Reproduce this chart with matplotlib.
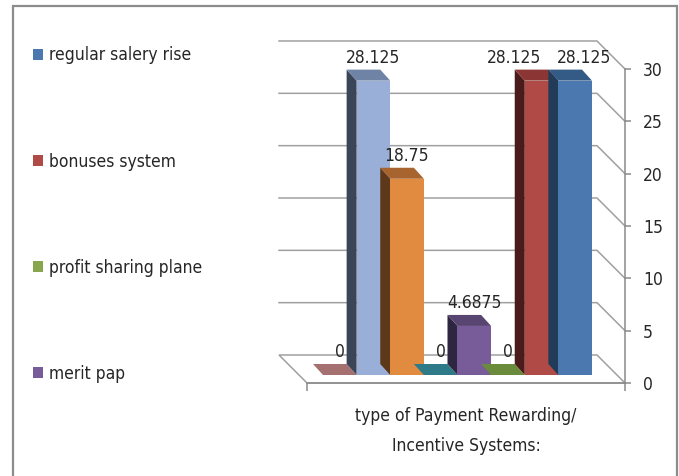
import matplotlib
matplotlib.use("Agg")
import matplotlib.pyplot as plt
from matplotlib.patches import Polygon, Rectangle, Patch

plt.rcParams["font.family"] = ["DejaVu Sans"]
plt.rcParams["font.stretch"] = "condensed"

# Excel series 1..8 (series 1 is the rightmost bar); only 4 names fit in the legend
legend_names = ["regular salery rise", "bonuses system", "profit sharing plane", "merit pap"]
bar_values = [28.125, 28.125, 0, 4.6875, 0, 18.75, 28.125, 0]
bar_labels = ["28.125", "28.125", "0", "4.6875", "0", "18.75", "28.125", "0"]

y_ticks = [0, 5, 10, 15, 20, 25, 30]
x_title = "type of Payment Rewarding/\nIncentive Systems:"

# colours: front, top, side face of each series
front_cols = ["#4A78AF", "#AF4A47", "#87A64E", "#775C99", "#3FA0B8", "#E08B40", "#9AAFD8", "#D09898"]
top_cols = ["#345B86", "#8B3634", "#6A8B3C", "#584572", "#2E7A88", "#A7642E", "#6F83A6", "#A57070"]
side_cols = ["#223B58", "#4A1B1A", "#3C4E22", "#2E2540", "#1B4550", "#5E381A", "#3A4557", "#5A3C3C"]

# small nudges (px) for the labels Excel moved to avoid overlap
label_nudge = [9, -27, 0, 0, 0, 0, 0, 0]

FS = 12.5
W, H = 679, 476
fig = plt.figure(figsize=(W / 100, H / 100), dpi=100)
fig.patch.set_facecolor("white")

# axes = front plane of the 3-D box (floor front edge and value axis)
ax = fig.add_axes([307 / W, (H - 383) / H, (625 - 307) / W, (383 - 69) / H])
ax.patch.set_visible(False)
x0, x1 = -1.214, 8.244
ax.set_xlim(x0, x1)
ax.set_ylim(0, 30)

grid_c = "#A0A0A0"


def px(dx, dy):
    # pixel offset -> data offset
    ox, oy = ax.transData.transform((0, 0))
    return tuple(ax.transData.inverted().transform((ox + dx, oy + dy)))


wdx, wdy = px(-28, 28)     # back wall
fdx, fdy = px(-8, 8)       # bar front face
bdx, bdy = px(-18, 19)     # bar back face

# back wall gridlines + the diagonal to the value axis
for v in y_ticks[1:]:
    ax.plot([x0 + wdx, x1 + wdx, x1], [v + wdy, v + wdy, v],
            color=grid_c, lw=1.1, clip_on=False, zorder=1)

# floor
ax.add_patch(Polygon([(x0, 0), (x1, 0), (x1 + wdx, wdy), (x0 + wdx, wdy)],
                     closed=True, fill=False, ec=grid_c, lw=1.1, clip_on=False, zorder=1))

# bars, drawn right to left so the left bar covers its neighbour's side face
n = len(bar_values)
for k in range(n):
    i = k                      # series index
    xc = n - 1 - k             # position from left
    v = bar_values[i]
    zb = 3 + (n - k)
    xl, xr = xc - 0.5 + fdx, xc + 0.5 + fdx
    yb, yt = fdy, v + fdy
    dx, dy = bdx - fdx, bdy - fdy
    # side face (left)
    ax.add_patch(Polygon([(xl, yb), (xl, yt), (xl + dx, yt + dy), (xl + dx, yb + dy)],
                         closed=True, fc=side_cols[i], ec="none", clip_on=False, zorder=zb))
    # front face
    ax.add_patch(Rectangle((xl, yb), 1, v, fc=front_cols[i], ec="none",
                           clip_on=False, zorder=zb))
    # top face
    ax.add_patch(Polygon([(xl, yt), (xr, yt), (xr + dx, yt + dy), (xl + dx, yt + dy)],
                         closed=True, fc=top_cols[i], ec="none", clip_on=False, zorder=zb))
    ax.annotate(bar_labels[i], xy=(xc + fdx, yt), xytext=(label_nudge[i] * 0.72, 18 * 0.72),
                textcoords="offset points", ha="center", va="baseline",
                fontsize=FS, color="#262626", zorder=20, annotation_clip=False)

# value axis on the right
for s in ["top", "left"]:
    ax.spines[s].set_visible(False)
ax.spines["right"].set_color("#8A8A8A")
ax.spines["bottom"].set_color("#8A8A8A")
ax.spines["right"].set_linewidth(1.1)
ax.spines["bottom"].set_linewidth(1.1)
ax.yaxis.tick_right()
ax.set_yticks(y_ticks)
ax.tick_params(axis="y", direction="out", length=4, width=1.1, color="#8A8A8A",
               labelsize=FS, labelcolor="#262626", pad=9)
ax.set_xticks([x0, x1])
ax.set_xticklabels(["", ""])
ax.tick_params(axis="x", direction="out", length=6, width=1.1, color="#8A8A8A")
ax.set_xlabel(x_title, fontsize=FS, color="#262626", linespacing=1.82, labelpad=8)

# legend
handles = [Patch(fc=front_cols[i], ec="none") for i in range(len(legend_names))]
fig.legend(handles, legend_names, loc="upper left", bbox_to_anchor=(33 / W, 1 - 46.5 / H),
           frameon=False, fontsize=FS, handlelength=0.55, handleheight=0.65,
           handletextpad=0.35, labelspacing=5.07, borderpad=0, borderaxespad=0,
           labelcolor="#262626")

# outer chart border
fig.patches.append(Rectangle((13 / W, -0.05), (677 - 13) / W, 1.05 - 6 / H,
                             transform=fig.transFigure, fill=False, ec="#8C8C8C", lw=1.6))

fig.savefig("out.png", dpi=100)
